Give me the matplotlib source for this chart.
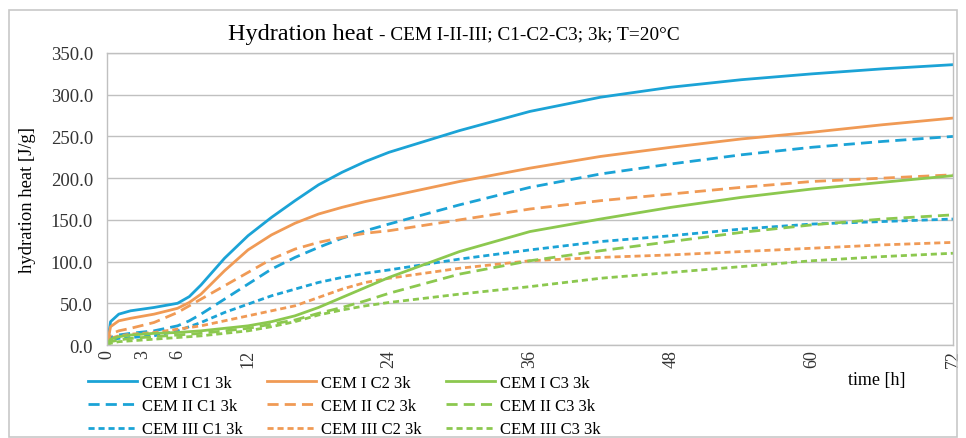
import numpy as np
import matplotlib
matplotlib.use("Agg")
import matplotlib.pyplot as plt
from matplotlib.patches import Rectangle

plt.rcParams['font.family'] = ['Liberation Serif', 'DejaVu Serif']

# time [h]
t = [0, 0.3, 1, 2, 4, 6, 7, 8, 10, 12, 14, 16, 18, 20, 22, 24, 30, 36, 42, 48, 54, 60, 66, 72]

# hydration heat [J/g]
cem1_c1 = [0, 28, 37, 41, 45, 50, 58, 72, 104, 131, 153, 173, 192, 207, 220, 231, 257, 280, 297, 309, 318, 325, 331, 336]
cem1_c2 = [0, 22, 29, 32, 37, 44, 51, 61, 89, 114, 132, 146, 157, 165, 172, 178, 196, 212, 226, 237, 247, 255, 264, 272]
cem1_c3 = [0, 7, 10, 12, 14, 15, 16, 17, 20, 23, 28, 35, 45, 57, 69, 81, 112, 136, 151, 165, 177, 187, 195, 203]
cem2_c1 = [0, 9, 12, 14, 17, 23, 29, 37, 55, 73, 91, 105, 117, 128, 137, 145, 168, 189, 205, 217, 228, 237, 244, 250]
cem2_c2 = [0, 13, 17, 20, 27, 39, 47, 55, 71, 87, 103, 115, 123, 129, 134, 137, 150, 163, 173, 181, 189, 196, 200, 204]
cem2_c3 = [0, 4, 6, 8, 10, 12, 13, 14, 17, 20, 25, 30, 38, 45, 53, 62, 85, 101, 113, 124, 135, 144, 151, 156]
cem3_c1 = [0, 6, 8, 9, 11, 17, 22, 27, 39, 49, 59, 67, 75, 81, 86, 90, 103, 114, 124, 131, 139, 145, 148, 151]
cem3_c2 = [0, 8, 11, 13, 15, 19, 21, 23, 29, 35, 41, 47, 57, 67, 75, 80, 92, 101, 105, 108, 112, 116, 120, 123]
cem3_c3 = [0, 2, 4, 5, 7, 9, 10, 11, 14, 17, 22, 28, 36, 42, 47, 51, 61, 70, 80, 87, 94, 101, 106, 110]

xticks = [0, 3, 6, 12, 24, 36, 48, 60, 72]

blue = '#1ba3d6'
orange = '#f09a55'
green = '#8cc84f'
long_dash = (0, (4.0, 2.2))
short_dash = (0, (2.2, 1.4))

fig = plt.figure(figsize=(9.66, 4.39), dpi=100)
ax = fig.add_axes([0.1108, 0.2118, 0.8757, 0.6652])

fig.patches.append(Rectangle((0.009, 0.002), 0.982, 0.973, transform=fig.transFigure,
                             fill=False, edgecolor='#c8c8c8', linewidth=1.2))

series = [
    (cem1_c1, blue, '-', 'CEM I C1 3k'),
    (cem2_c1, blue, long_dash, 'CEM II C1 3k'),
    (cem3_c1, blue, short_dash, 'CEM III C1 3k'),
    (cem1_c2, orange, '-', 'CEM I C2 3k'),
    (cem2_c2, orange, long_dash, 'CEM II C2 3k'),
    (cem3_c2, orange, short_dash, 'CEM III C2 3k'),
    (cem1_c3, green, '-', 'CEM I C3 3k'),
    (cem2_c3, green, long_dash, 'CEM II C3 3k'),
    (cem3_c3, green, short_dash, 'CEM III C3 3k'),
]
for y, c, ls, lab in series:
    ax.plot(t, y, color=c, linestyle=ls, linewidth=2.0, label=lab)

ax.set_xlim(0, 72)
ax.set_ylim(0, 350)
ax.set_xticks(xticks)
ax.set_xticklabels([str(v) for v in xticks], rotation=90, fontsize=13, color='#333333')
ax.set_yticks(np.arange(0, 351, 50))
ax.set_yticklabels(['%.1f' % v for v in np.arange(0, 351, 50)], fontsize=13.5, color='#333333')
ax.tick_params(axis='y', length=0, pad=10)
ax.tick_params(axis='x', length=0, pad=3)
ax.grid(axis='y', color='#c0c0c0', linewidth=1.0)
ax.set_axisbelow(True)
for s in ax.spines.values():
    s.set_color('#c0c0c0')
    s.set_linewidth(1.0)

ax.set_ylabel('hydration heat [J/g]', fontsize=13.4, labelpad=11)
fig.text(0.937, 0.134, 'time [h]', ha='right', va='center', fontsize=13)

t1 = fig.text(0.236, 0.91, 'Hydration heat', ha='left', va='baseline', fontsize=17.5)
ax.annotate('- CEM I-II-III; C1-C2-C3; 3k; T=20°C', xy=(1, 0.91),
            xycoords=(t1, 'figure fraction'), xytext=(4, 0), textcoords='offset points',
            ha='left', va='baseline', fontsize=13.9, annotation_clip=False)

ax.legend(loc='upper left', bbox_to_anchor=(-0.03, -0.08), ncol=3, frameon=False,
          fontsize=12, handlelength=2.9, handletextpad=0.3, columnspacing=1.5,
          labelspacing=0.43, borderaxespad=0)

fig.savefig('out.png', dpi=100)
